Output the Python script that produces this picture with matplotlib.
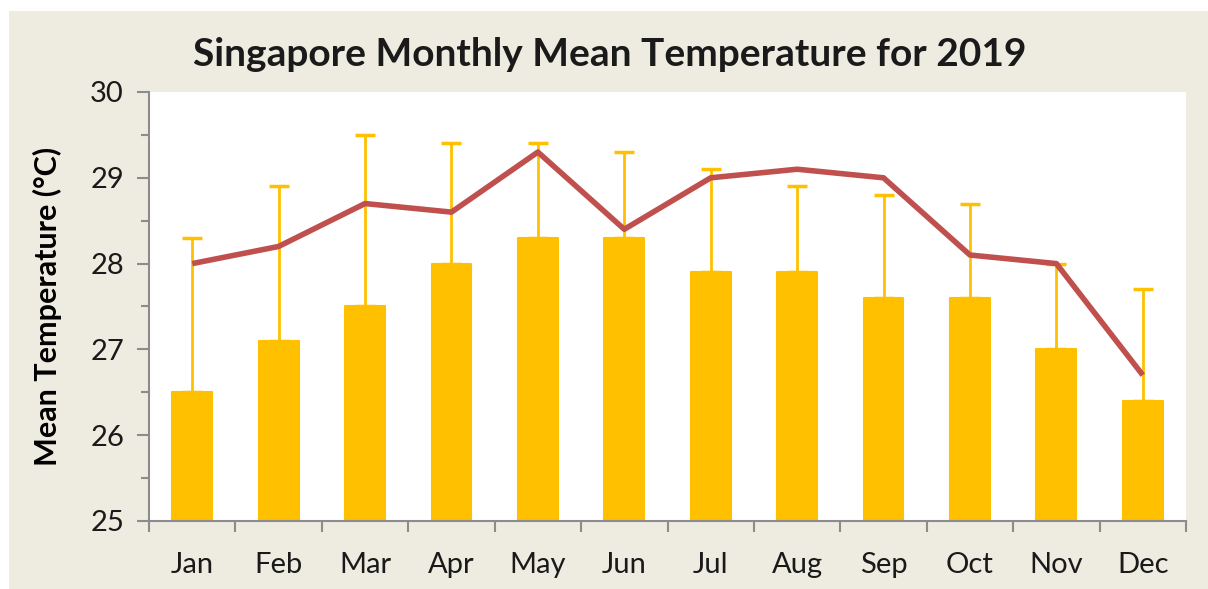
import matplotlib
matplotlib.use("Agg")
import matplotlib.pyplot as plt
from matplotlib.patches import Rectangle
import numpy as np

# datos
meses = ["Jan", "Feb", "Mar", "Apr", "May", "Jun", "Jul", "Aug", "Sep", "Oct", "Nov", "Dec"]
barras = [26.5, 27.1, 27.5, 28.0, 28.3, 28.3, 27.9, 27.9, 27.6, 27.6, 27.0, 26.4]
error_sup = [1.8, 1.8, 2.0, 1.4, 1.1, 1.0, 1.2, 1.0, 1.2, 1.1, 1.0, 1.3]
linea = [28.0, 28.2, 28.7, 28.6, 29.3, 28.4, 29.0, 29.1, 29.0, 28.1, 28.0, 26.7]

amarillo = "#FFC000"
rojo = "#C0504D"
fondo = "#EEECE1"
gris = "#8C8C8C"

plt.rcParams["font.family"] = ["Lato", "DejaVu Sans"]

fig = plt.figure(figsize=(12.08, 5.89), dpi=100)
W, H = 1208, 589
# fondo beige con margen blanco arriba/izquierda
fig.patches.append(Rectangle((9 / W, 0), 1, 1 - 11 / H, transform=fig.transFigure,
                             facecolor=fondo, edgecolor="none", zorder=-10))

ax = fig.add_axes([149 / W, 1 - 521 / H, (1186 - 149) / W, (521 - 92) / H])
ax.set_facecolor("white")

x = np.arange(len(meses))
ax.bar(x, np.array(barras) - 25, bottom=25, width=0.46, color=amarillo,
       edgecolor=amarillo, linewidth=1.5, joinstyle="round", zorder=2)
ax.errorbar(x, barras, yerr=[np.zeros(len(x)), error_sup], fmt="none",
            ecolor=amarillo, elinewidth=2, capsize=7, capthick=2.5, zorder=3)
ax.plot(x, linea, color=rojo, linewidth=4, solid_capstyle="butt", zorder=4)

ax.set_xlim(-0.5, len(meses) - 0.5)
ax.set_ylim(25, 30)
ax.set_yticks([25, 26, 27, 28, 29, 30])
ax.set_yticks(np.arange(25.5, 30, 1), minor=True)
ax.set_xticks(x)
ax.set_xticklabels(meses)
ax.set_xticks(np.arange(-0.5, len(meses), 1), minor=True)

for lado in ["top", "right"]:
    ax.spines[lado].set_visible(False)
for lado in ["left", "bottom"]:
    ax.spines[lado].set_color(gris)
    ax.spines[lado].set_linewidth(1.5)

ax.tick_params(axis="y", which="major", length=9, width=1.5, color=gris,
               labelsize=21, pad=9, labelcolor="#1a1a1a")
ax.tick_params(axis="y", which="minor", length=6, width=1.5, color=gris)
ax.tick_params(axis="x", which="major", length=0, labelsize=21, pad=22, labelcolor="#1a1a1a")
ax.tick_params(axis="x", which="minor", length=8, width=1.5, color=gris)

ax.set_ylabel("Mean Temperature (°C)", fontsize=22, fontweight="bold", labelpad=20)
fig.text(0.505, 1 - 55 / H, "Singapore Monthly Mean Temperature for 2019",
         ha="center", va="center", fontsize=28, fontweight="bold", color="#1a1a1a")

fig.savefig("out.png", dpi=100)
